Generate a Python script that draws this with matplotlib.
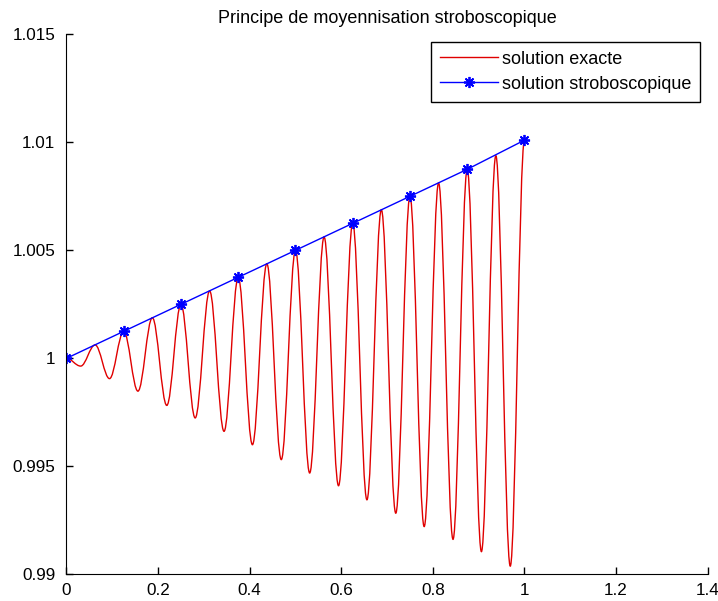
import matplotlib.pyplot as plt
from matplotlib.path import Path
from matplotlib.patches import PathPatch
from matplotlib.lines import Line2D

# extrema of the exact solution
peak_x = [0, 0.0625, 0.125, 0.1875, 0.25, 0.3125, 0.375, 0.4375, 0.5,
          0.5625, 0.625, 0.6875, 0.75, 0.8125, 0.875, 0.9375, 1.0]
peak_y = [1.0, 1.00062, 1.00125, 1.00188, 1.0025, 1.00312, 1.00375, 1.00438, 1.005,
          1.00562, 1.00625, 1.00688, 1.0075, 1.00812, 1.00875, 1.00938, 1.0101]
trough_x = [0.031, 0.094, 0.156, 0.219, 0.281, 0.344, 0.406, 0.469,
            0.531, 0.594, 0.656, 0.719, 0.781, 0.844, 0.906, 0.969]
trough_y = [0.99964, 0.99906, 0.99848, 0.99782, 0.99724, 0.99662, 0.99600, 0.99531,
            0.99469, 0.99410, 0.99345, 0.99283, 0.99221, 0.99162, 0.99105, 0.99038]

# stroboscopic solution
strobe_x = [0, 0.125, 0.25, 0.375, 0.5, 0.625, 0.75, 0.875, 1.0]
strobe_y = [1.0, 1.00125, 1.0025, 1.00375, 1.005, 1.00625, 1.0075, 1.00875, 1.0101]

xticks = [0, 0.2, 0.4, 0.6, 0.8, 1.0, 1.2, 1.4]
xlabels = ["0", "0.2", "0.4", "0.6", "0.8", "1", "1.2", "1.4"]
yticks = [0.99, 0.995, 1.0, 1.005, 1.01, 1.015]
ylabels = ["0.99", "0.995", "1", "1.005", "1.01", "1.015"]

plt.rcParams["font.family"] = ["Liberation Sans", "DejaVu Sans"]
plt.rcParams["font.size"] = 12

fig = plt.figure(figsize=(7.18, 6.01), dpi=100)
ax = fig.add_axes([0.0926, 0.0444, 0.893, 0.8985])

# interleave peaks and troughs, join them with smooth curves
ext = []
for i in range(len(trough_x)):
    ext.append((peak_x[i], peak_y[i]))
    ext.append((trough_x[i], trough_y[i]))
ext.append((peak_x[-1], peak_y[-1]))

verts = [ext[0]]
codes = [Path.MOVETO]
for (x0, y0), (x1, y1) in zip(ext[:-1], ext[1:]):
    d = 0.364 * (x1 - x0)
    verts += [(x0 + d, y0), (x1 - d, y1), (x1, y1)]
    codes += [Path.CURVE4] * 3
ax.add_patch(PathPatch(Path(verts, codes), facecolor="none", edgecolor="#e00000", lw=1.0))

ax.plot(strobe_x, strobe_y, color="#0000ff", lw=1.0, marker=(8, 2, 0),
        markersize=8, markeredgewidth=1.3)

handles = [Line2D([], [], color="#e00000", lw=1.0),
           Line2D([], [], color="#0000ff", lw=1.0, marker=(8, 2, 0),
                  markersize=8, markeredgewidth=1.3)]
leg = ax.legend(handles, ["solution exacte", "solution stroboscopique"],
                loc="upper right", fancybox=False, framealpha=1, edgecolor="black",
                fontsize=13, borderaxespad=0.4, handlelength=3.2, handletextpad=0.25,
                labelspacing=0.45, borderpad=0.5)
leg.get_frame().set_linewidth(1.0)

ax.set_xlim(0, 1.4)
ax.set_ylim(0.99, 1.015)
ax.set_xticks(xticks, xlabels)
ax.set_yticks(yticks, ylabels)
ax.spines["top"].set_visible(False)
ax.spines["right"].set_visible(False)
ax.tick_params(direction="in", length=5, width=1, labelsize=12.3)
ax.tick_params(axis="x", pad=6)
ax.tick_params(axis="y", pad=8)
ax.set_title("Principe de moyennisation stroboscopique", fontsize=13, pad=8)

plt.savefig("out.png", dpi=100)
